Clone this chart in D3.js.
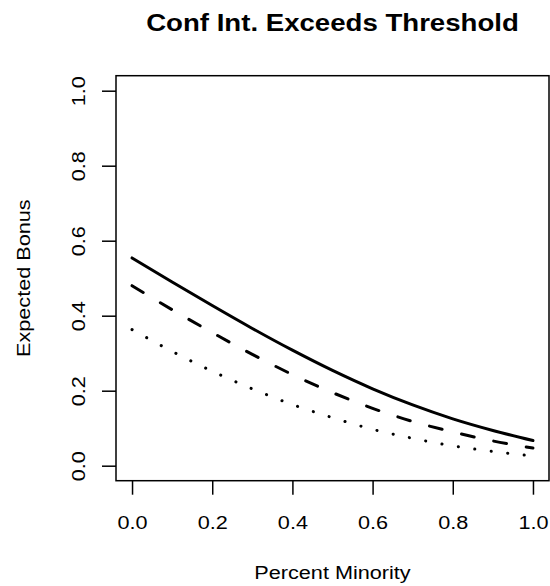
<!DOCTYPE html>
<html>
<head>
<meta charset="utf-8">
<script src="https://d3js.org/d3.v7.min.js"></script>
<style>
	body { margin: 0; background: #fff; }
	text { font-family: "Liberation Sans", Arial, sans-serif; fill: #000; }
</style>
</head>
<body>
<svg width="550" height="586"></svg>
<script>
	// values, x = 0, 0.1, ... 1.0
	var pctMinority = [0, 0.1, 0.2, 0.3, 0.4, 0.5, 0.6, 0.7, 0.8, 0.9, 1.0];
	var bonusSolid  = [0.554, 0.490, 0.427, 0.366, 0.308, 0.254, 0.205, 0.162, 0.125, 0.094, 0.067];
	var bonusDashed = [0.480, 0.416, 0.355, 0.297, 0.243, 0.195, 0.153, 0.118, 0.090, 0.066, 0.047];
	var bonusDotted = [0.363, 0.305, 0.252, 0.205, 0.163, 0.128, 0.097, 0.073, 0.053, 0.038, 0.026];
	var xTicks = [0, 0.2, 0.4, 0.6, 0.8, 1.0];
	var yTicks = [0, 0.2, 0.4, 0.6, 0.8, 1.0];

	var svg = d3.select('svg');
	var pLeft = 116, pRight = 549, pTop = 75.7, pBottom = 480.7;
	var sx = 1.14; // text in the picture runs wide

	var x = d3.scaleLinear().domain([-0.04, 1.04]).range([pLeft, pRight]);
	var y = d3.scaleLinear().domain([-0.04, 1.04]).range([pBottom, pTop]);

	var line = d3.line()
		.x(function(d) { return x(d[0]); })
		.y(function(d) { return y(d[1]); })
		.curve(d3.curveMonotoneX);

	function pts(vals) {
		return vals.map(function(v, i) { return [pctMinority[i], v]; });
	}

	var series = [
		{ vals: bonusSolid, dash: null },
		{ vals: bonusDashed, dash: '13,20' },
		{ vals: bonusDotted, dash: '0.1,16.5' }
	];

	svg.selectAll('path.curve').data(series)
		.enter().append('path')
			.attr('class', 'curve')
			.attr('d', function(d) { return line(pts(d.vals)); })
			.style('fill', 'none')
			.style('stroke', '#000')
			.style('stroke-width', 3)
			.style('stroke-linecap', 'round')
			.style('stroke-linejoin', 'round')
			.style('stroke-dasharray', function(d) { return d.dash; });

	// box
	svg.append('rect')
		.attr('x', pLeft).attr('y', pTop)
		.attr('width', pRight - pLeft).attr('height', pBottom - pTop)
		.style('fill', 'none').style('stroke', '#000').style('stroke-width', 1.5);

	var xAxis = svg.append('g')
		.attr('transform', 'translate(0,' + pBottom + ')')
		.call(d3.axisBottom(x).tickValues(xTicks).tickSize(14).tickFormat(d3.format('.1f')));
	xAxis.select('.domain').remove();
	xAxis.selectAll('line').style('stroke-width', 1.5);
	xAxis.selectAll('text')
		.attr('y', 48.5).attr('dy', 0)
		.attr('transform', 'scale(' + sx + ',1)')
		.style('font-size', '19px')
		.style('font-family', '"Liberation Sans", Arial, sans-serif');

	var yAxis = svg.append('g')
		.attr('transform', 'translate(' + pLeft + ',0)')
		.call(d3.axisLeft(y).tickValues(yTicks).tickSize(14).tickFormat(d3.format('.1f')));
	yAxis.select('.domain').remove();
	yAxis.selectAll('line').style('stroke-width', 1.5);
	yAxis.selectAll('text')
		.attr('x', 0).attr('y', 0).attr('dy', 0)
		.attr('text-anchor', 'middle')
		.attr('transform', 'translate(-31,0) rotate(-90) scale(' + sx + ',1)')
		.style('font-size', '19px')
		.style('font-family', '"Liberation Sans", Arial, sans-serif');

	svg.append('text')
		.attr('text-anchor', 'middle')
		.attr('transform', 'translate(' + (pLeft + pRight) / 2 + ',31) scale(1.15,1)')
		.style('font-size', '24px')
		.style('font-weight', 'bold')
		.text('Conf Int. Exceeds Threshold');

	svg.append('text')
		.attr('text-anchor', 'middle')
		.attr('transform', 'translate(' + (pLeft + pRight) / 2 + ',579) scale(' + sx + ',1)')
		.style('font-size', '19px')
		.text('Percent Minority');

	svg.append('text')
		.attr('text-anchor', 'middle')
		.attr('transform', 'translate(29.5,' + (pTop + pBottom) / 2 + ') rotate(-90) scale(' + sx + ',1)')
		.style('font-size', '19px')
		.text('Expected Bonus');
</script>
</body>
</html>
